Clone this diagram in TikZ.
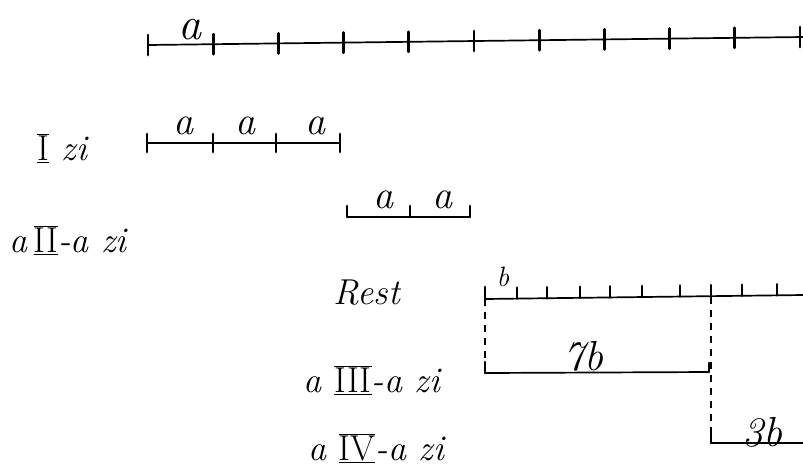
\documentclass[tikz,border=0pt]{standalone}
\usepackage{fontspec}
\newcommand\rnum[1]{$\overline{\underline{\mbox{\upshape #1}}}$}
\begin{document}
\begin{tikzpicture}[x=1pt,y=-1pt,
  seg/.style={line width=1.7pt},
  tk/.style={line width=2.8pt, line cap=round},
  dsh/.style={line width=1.4pt, dash pattern=on 7pt off 6pt},
  lbl/.style={font=\fontsize{36}{40}\selectfont\itshape, inner sep=0pt},
  sym/.style={font=\fontsize{40}{44}\selectfont\itshape, inner sep=0pt}]
\useasboundingbox (0,0) rectangle (803,475);
% top line
\coordinate (t0) at (148,45);
\coordinate (t1) at (803,37);
\draw[seg] (t0) -- (t1);
\foreach \i in {0,...,10}{
  \pgfmathsetmacro\xx{148+65.2*\i}
  \pgfmathsetmacro\yy{45-0.8*\i}
  \draw[tk] (\xx,\yy-10) -- (\xx,\yy+10);
}
\node[sym, font=\fontsize{46}{50}\selectfont\itshape] (la) at (190,30) {a};
% row I
\node[lbl] (l1) at (62,148) {\rnum{I} zi};
\coordinate (r1a) at (147,143);
\coordinate (r1b) at (340,143);
\draw[seg] (r1a) -- (r1b);
\foreach \x in {147,213,276,340}{\draw[tk] (\x,134) -- (\x,152);}
\node[sym] (a1) at (183,126) {a};
\node[sym] (a2) at (245,126) {a};
\node[sym] (a3) at (315,126) {a};
% row II
\node[lbl] (l2) at (68,240) {a\,\rnum{II}-a zi};
\coordinate (r2a) at (347,217);
\coordinate (r2b) at (470,217);
\draw[seg] (r2a) -- (r2b);
\foreach \x in {347,410,470}{\draw[tk] (\x,206) -- (\x,217);}
\node[sym] (a4) at (383,200) {a};
\node[sym] (a5) at (442,200) {a};
% rest
\node[lbl] (rest) at (367,293) {Rest};
\coordinate (ra) at (485,299);
\coordinate (rb) at (803,295);
\draw[seg] (ra) -- (rb);
\foreach \x in {517,547,580,610,642,680,711,742,777}{
  \pgfmathsetmacro\yy{299-4*(\x-485)/318}
  \draw[tk] (\x,\yy-11) -- (\x,\yy);}
\draw[tk] (485,287) -- (485,305);
\node[font=\fontsize{28}{30}\selectfont\itshape, inner sep=0pt] (bl) at (503,277) {b};
% day III
\node[lbl] (l3) at (372,380) {a \rnum{III}-a zi};
\coordinate (s7a) at (485,373);
\coordinate (s7b) at (709,372);
\coordinate (d2) at (711,297);
\coordinate (s3a) at (711,443);
\coordinate (s3b) at (803,443);
\draw[dsh] (ra) -- (s7a);
\draw[dsh] (d2) -- (s3a);
\draw[seg] (s7a) -- (s7b);
\draw[tk] (485,362) -- (s7a);
\draw[tk] (709,363) -- (s7b);
\node[lbl, font=\fontsize{42}{44}\selectfont\itshape] (b7) at (583,356) {7b};
% day IV
\node[lbl] (l4) at (376,448) {a \rnum{IV}-a zi};
\draw[seg] (s3a) -- (s3b);
\draw[tk] (711,430) -- (s3a);
\node[lbl, font=\fontsize{42}{44}\selectfont\itshape] (b3) at (762,432) {3b};
\end{tikzpicture}
\end{document}
